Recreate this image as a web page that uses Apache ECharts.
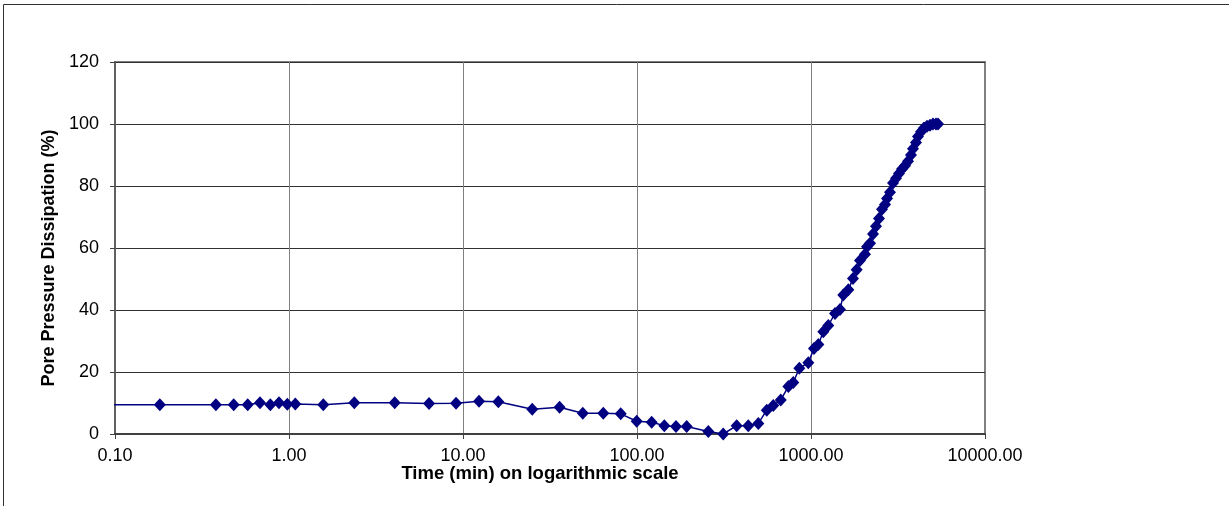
<!DOCTYPE html>
<html>
<head>
<meta charset="utf-8">
<script src="https://cdn.jsdelivr.net/npm/echarts@6/dist/echarts.min.js"></script>
<style>
  html, body { margin: 0; padding: 0; background: #fff; }
  #chart { width: 1229px; height: 506px; }
</style>
</head>
<body>
<div id="chart"></div>
<script>
// Elapsed time since test start (min)
const timeMin = [
  0.05, 0.181, 0.380, 0.481, 0.579, 0.681, 0.781, 0.876, 0.978, 1.087,
  1.574, 2.373, 4.05, 6.38, 9.12, 12.36, 15.96, 25.0, 35.9, 48.8,
  64.0, 80.6, 99.6, 121.4, 143.6, 167.5, 193, 257, 313, 374,
  436, 498, 557, 607, 670, 741, 791, 857, 965, 1040,
  1102, 1177, 1257, 1374, 1468, 1533, 1639, 1743, 1830, 1912,
  2043, 2098, 2184, 2272, 2364, 2459, 2559, 2663, 2735, 2844,
  2960, 3080, 3204, 3334, 3469, 3610, 3755, 3856, 4012, 4120,
  4287, 4460, 4642, 4830, 5024, 5228, 5370
];

// Pore pressure dissipation (%)
const dissipation = [
  9.4, 9.4, 9.4, 9.4, 9.4, 10.1, 9.4, 10.1, 9.6, 9.7,
  9.4, 10.1, 10.1, 9.8, 9.9, 10.6, 10.4, 8.0, 8.6, 6.7,
  6.7, 6.5, 4.1, 3.8, 2.7, 2.4, 2.4, 0.8, 0.0, 2.7,
  2.7, 3.4, 7.7, 9.2, 11.0, 15.3, 16.6, 21.2, 23.0, 27.6,
  28.9, 33.0, 35.0, 38.9, 40.2, 44.8, 46.5, 50.2, 53.0, 56.0,
  58.0, 60.4, 61.5, 64.5, 67.0, 69.5, 72.5, 74.0, 76.0, 78.0,
  81.0, 82.5, 84.0, 85.5, 86.5, 88.0, 90.0, 92.0, 94.0, 96.0,
  97.5, 98.7, 99.3, 99.6, 100.0, 100.0, 100.0
];

const yTitle = 'Pore Pressure Dissipation (%)';
const xTitle = 'Time (min) on logarithmic scale';

const FONT = '"Liberation Sans", Arial, sans-serif';

const chart = echarts.init(document.getElementById('chart'), null, { renderer: 'canvas' });

const points = timeMin.map((t, i) => [t, dissipation[i]]);

chart.setOption({
  animation: false,
  backgroundColor: '#ffffff',
  grid: { left: 115, top: 62, right: 244, bottom: 72, show: true, borderColor: '#808080', borderWidth: 2 },
  xAxis: {
    type: 'log',
    logBase: 10,
    min: 0.1,
    max: 10000,
    axisLine: { show: true, onZero: false, lineStyle: { color: '#404040', width: 2 } },
    axisTick: { show: true, length: 5, lineStyle: { color: '#404040' } },
    axisLabel: {
      margin: 13,
      color: '#000',
      fontFamily: FONT,
      fontSize: 18,
      formatter: v => Number(v).toFixed(2)
    },
    splitLine: { show: true, lineStyle: { color: '#808080', width: 1 } },
    minorTick: { show: false }
  },
  yAxis: {
    type: 'value',
    min: 0,
    max: 120,
    interval: 20,
    axisLine: { show: true, lineStyle: { color: '#606060', width: 2 } },
    axisTick: { show: true, length: 5, lineStyle: { color: '#404040' } },
    axisLabel: { margin: 16, color: '#000', fontFamily: FONT, fontSize: 18 },
    splitLine: { show: true, lineStyle: { color: '#303030', width: 1 } }
  },
  graphic: [
    {
      type: 'rect',
      silent: true,
      shape: { x: 3.5, y: 4.5, width: 1300, height: 600 },
      style: { fill: 'none', stroke: '#303030', lineWidth: 1 }
    },
    {
      type: 'text',
      silent: true,
      x: 49, y: 258,
      rotation: Math.PI / 2,
      style: {
        text: yTitle,
        fontFamily: FONT, fontSize: 18, fontWeight: 'bold', fill: '#000',
        align: 'center', verticalAlign: 'middle'
      }
    },
    {
      type: 'text',
      silent: true,
      x: 540, y: 474,
      style: {
        text: xTitle,
        fontFamily: FONT, fontSize: 18.5, fontWeight: 'bold', fill: '#000',
        align: 'center', verticalAlign: 'middle'
      }
    }
  ],
  series: [{
    type: 'line',
    data: points,
    clip: true,
    symbol: 'diamond',
    symbolSize: [12, 13],
    showAllSymbol: true,
    itemStyle: { color: '#000080' },
    lineStyle: { color: '#000080', width: 1.5 }
  }]
});
</script>
</body>
</html>
